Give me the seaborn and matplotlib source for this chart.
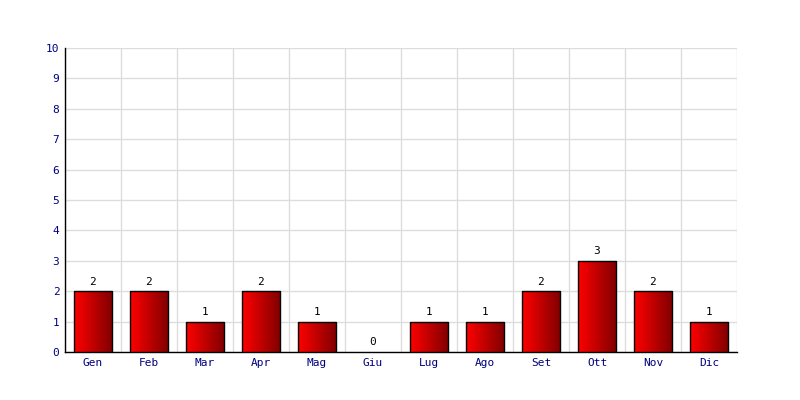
import numpy as np
import pandas as pd
import matplotlib
matplotlib.use('Agg')
import matplotlib.pyplot as plt
import seaborn as sns
from matplotlib.colors import LinearSegmentedColormap

mesi = ['Gen', 'Feb', 'Mar', 'Apr', 'Mag', 'Giu', 'Lug', 'Ago', 'Set', 'Ott', 'Nov', 'Dic']
valori = [2, 2, 1, 2, 1, 0, 1, 1, 2, 3, 2, 1]
yticks = list(range(0, 11))

sns.set_style('white')
plt.rcParams['font.family'] = ['DejaVu Sans Mono']

df = pd.DataFrame({'mese': mesi, 'valore': valori})

fig = plt.figure(figsize=(8, 4), dpi=100)
ax = fig.add_axes([65 / 800, 48 / 400, 672 / 800, 304 / 400])

sns.barplot(data=df, x='mese', y='valore', color='#cc0000', width=0.68,
            edgecolor='black', linewidth=1, ax=ax, zorder=3)

# sfumatura rosso -> rosso scuro su ogni barra
cmap = LinearSegmentedColormap.from_list('rosso', ['#ff0000', '#800000'])
grad = np.linspace(0, 1, 256).reshape(1, -1)
for p in ax.patches:
    x0, y0 = p.get_x(), p.get_y()
    w, h = p.get_width(), p.get_height()
    if h <= 0:
        p.set_visible(False)
        continue
    im = ax.imshow(grad, cmap=cmap, aspect='auto', extent=[x0, x0 + w, y0, y0 + h],
                   zorder=3.5, interpolation='bilinear')
    im.set_clip_path(p)
    p.set_facecolor('none')
    p.set_zorder(4)

for i, v in enumerate(valori):
    ax.text(i, v + 0.15, str(v), ha='center', va='bottom', fontsize=8, color='black')

ax.set_xlim(-0.5, len(mesi) - 0.5)
ax.set_ylim(0, 10)
ax.set_yticks(yticks)
ax.set_xticks(np.arange(-0.5, len(mesi), 1), minor=True)
ax.grid(True, which='minor', axis='x', color='#dddddd', linewidth=1, zorder=0)
ax.grid(True, which='major', axis='y', color='#dddddd', linewidth=1, zorder=0)
ax.set_axisbelow(True)
ax.tick_params(axis='both', which='both', length=0, labelsize=8, labelcolor='#000080', pad=4)
ax.set_xlabel('')
ax.set_ylabel('')

for s in ['top', 'right']:
    ax.spines[s].set_visible(False)
ax.spines['left'].set_color('black')
ax.spines['bottom'].set_color('black')
ax.spines['left'].set_linewidth(1)
ax.spines['bottom'].set_linewidth(1)

fig.savefig('out.png', dpi=100)
